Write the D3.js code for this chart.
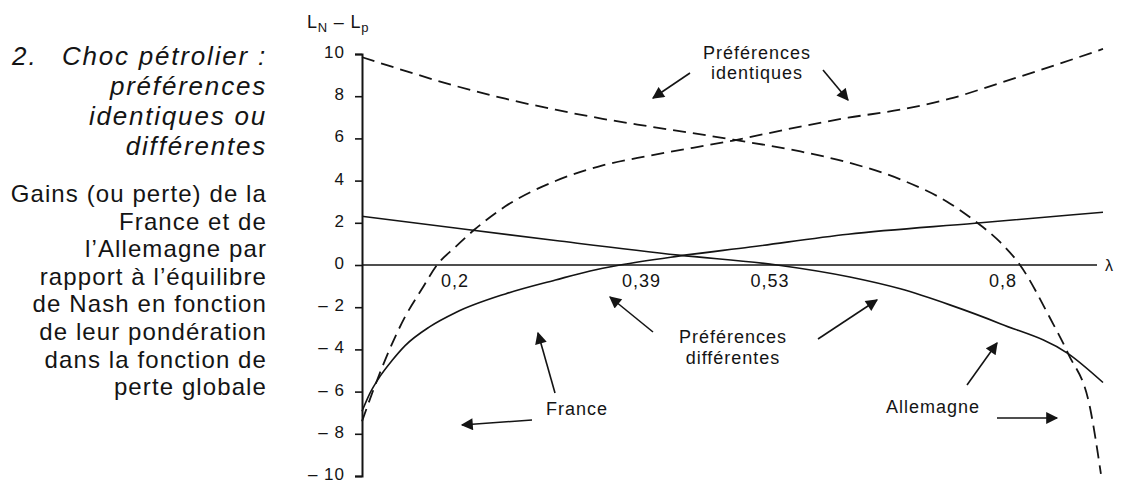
<!DOCTYPE html>
<html>
<head>
<meta charset="utf-8">
<script src="https://cdn.jsdelivr.net/npm/d3@7"></script>
<style>
  html, body { margin: 0; padding: 0; background: #fff; }
  svg { display: block; font-family: "Liberation Sans", Arial, Helvetica, sans-serif; }
</style>
</head>
<body>
<script>
// ---------------- DATA ----------------
// λ knots used by the (schematic) horizontal axis and the labelled λ values
const lambdaKnots = [0, 0.2, 0.39, 0.53, 0.8, 1];
const xTickValues = [0.2, 0.39, 0.53, 0.8];
const xTickLabels = ["0,2", "0,39", "0,53", "0,8"];
const yTickValues = [-10, -8, -6, -4, -2, 0, 2, 4, 6, 8, 10];

// Préférences identiques (dashed)
const identiquesFrance = [
  [0, -7.41], [0.027, -6.08], [0.061, -4.53], [0.115, -2.45], [0.16, -1.13],
  [0.2, 0], [0.219, 0.85], [0.239, 1.68], [0.271, 2.78], [0.323, 3.98],
  [0.372, 4.72], [0.417, 5.19], [0.491, 5.9], [0.556, 6.56], [0.609, 6.98],
  [0.667, 7.36], [0.722, 7.88], [0.778, 8.63], [0.872, 9.39], [1.0, 10.24]
];
const identiquesAllemagne = [
  [0, 9.85], [0.115, 9.2], [0.219, 8.49], [0.271, 7.88], [0.323, 7.36],
  [0.372, 6.93], [0.417, 6.56], [0.491, 5.94], [0.556, 5.38], [0.609, 4.86],
  [0.667, 4.06], [0.722, 2.92], [0.75, 2.08], [0.778, 1.08], [0.8, 0],
  [0.872, -2.5], [0.916, -4.2], [0.969, -6.79], [0.995, -9.9]
];
// Préférences différentes (solid)
const differentesFrance = [
  [0, -6.93], [0.021, -6.08], [0.048, -5.28], [0.08, -4.53], [0.115, -3.82],
  [0.181, -2.92], [0.219, -2.26], [0.271, -1.37], [0.323, -0.71], [0.359, -0.28],
  [0.39, 0], [0.442, 0.42], [0.506, 0.85], [0.609, 1.46], [0.75, 1.98], [1.0, 2.5]
];
const differentesAllemagne = [
  [0, 2.31], [0.219, 1.75], [0.323, 1.16], [0.442, 0.47], [0.53, 0],
  [0.611, -0.57], [0.667, -1.13], [0.722, -1.89], [0.778, -2.78],
  [0.916, -4.2], [1.0, -5.57]
];

const titleLines = ["Choc pétrolier :", "préférences", "identiques ou", "différentes"];
const subtitleLines = ["Gains (ou perte) de la", "France et de", "l’Allemagne par",
  "rapport à l’équilibre", "de Nash en fonction", "de leur pondération",
  "dans la fonction de", "perte globale"];

// ---------------- CHART ----------------
const W = 1123, H = 484;
const ink = "#141414";
const svg = d3.select("body").append("svg").attr("width", W).attr("height", H);

const x = d3.scaleLinear().domain(lambdaKnots).range([362, 437, 620, 777, 1020, 1103]);
const y = d3.scaleLinear().domain([-10, 10]).range([476, 54]);

// Title block
const tg = svg.append("g").attr("fill", ink);
tg.append("text").attr("x", 12).attr("y", 65)
  .attr("font-size", 26).attr("font-style", "italic").attr("letter-spacing", 2)
  .text("2.");
titleLines.forEach((t, i) => {
  tg.append("text").attr("x", 267).attr("y", 65 + i * 30)
    .attr("text-anchor", "end").attr("font-size", 26).attr("font-style", "italic")
    .attr("letter-spacing", 1.8).text(t);
});
subtitleLines.forEach((t, i) => {
  tg.append("text").attr("x", 267).attr("y", 202 + i * 27.6)
    .attr("text-anchor", "end").attr("font-size", 24)
    .attr("letter-spacing", 1.1).text(t);
});

// Y axis
const yAxis = svg.append("g").attr("transform", `translate(${x(0)},0)`)
  .call(d3.axisLeft(y).tickValues(yTickValues).tickSize(7).tickSizeOuter(7).tickPadding(10)
    .tickFormat(d => d < 0 ? "\u2013 " + (-d) : String(d)));
yAxis.select(".domain").attr("stroke", ink).attr("stroke-width", 2);
yAxis.selectAll(".tick line").attr("stroke", ink).attr("stroke-width", 1.6);
yAxis.selectAll(".tick text").attr("fill", ink).attr("font-size", 17).attr("dy", "0.2em")
  .attr("letter-spacing", 1).attr("font-family", "Liberation Sans, Arial, sans-serif");

// Y axis label L_N − L_p
const yl = svg.append("text").attr("x", 307).attr("y", 28).attr("fill", ink)
  .attr("font-size", 18).attr("letter-spacing", 0.8);
yl.append("tspan").text("L");
yl.append("tspan").attr("font-size", 13).attr("dy", 4).text("N");
yl.append("tspan").attr("dy", -4).text(" \u2013 L");
yl.append("tspan").attr("font-size", 13).attr("dy", 4).text("p");

// X axis line
svg.append("line").attr("x1", x(0)).attr("x2", x(1) - 6)
  .attr("y1", y(0)).attr("y2", y(0)).attr("stroke", ink).attr("stroke-width", 1.5);
svg.append("text").attr("x", x(1) + 2).attr("y", y(0) + 6).attr("fill", ink)
  .attr("font-size", 16).text("λ");

// X tick labels
const anchors = ["start", "start", "middle", "end"];
const dxs = [4, 2, -7, -3];
xTickValues.forEach((v, i) => {
  svg.append("text").attr("x", x(v) + dxs[i]).attr("y", y(0) + 22)
    .attr("text-anchor", anchors[i]).attr("fill", ink).attr("font-size", 18)
    .attr("letter-spacing", 1).text(xTickLabels[i]);
});

// Curves
const line = d3.line().x(d => x(d[0])).y(d => y(d[1])).curve(d3.curveMonotoneX);
const series = [
  { data: identiquesFrance, dash: "13,7", w: 1.8 },
  { data: identiquesAllemagne, dash: "13,7", w: 1.8 },
  { data: differentesFrance, dash: null, w: 1.6 },
  { data: differentesAllemagne, dash: null, w: 1.6 }
];
svg.append("g").selectAll("path").data(series).join("path")
  .attr("d", d => line(d.data))
  .attr("fill", "none").attr("stroke", ink)
  .attr("stroke-width", d => d.w)
  .attr("stroke-dasharray", d => d.dash);

// Arrow marker
svg.append("defs").append("marker").attr("id", "ah")
  .attr("viewBox", "0 0 10 10").attr("refX", 9).attr("refY", 5)
  .attr("markerUnits", "userSpaceOnUse").attr("markerWidth", 14).attr("markerHeight", 12)
  .attr("orient", "auto")
  .append("path").attr("d", "M0,0 L10,5 L0,10 Z").attr("fill", ink);

// Annotations
const annoText = [
  { t: "Préférences", x: 757, y: 59 }, { t: "identiques", x: 757, y: 79 },
  { t: "Préférences", x: 733, y: 343 }, { t: "différentes", x: 733, y: 364 },
  { t: "France", x: 577, y: 415 }, { t: "Allemagne", x: 933, y: 413 }
];
svg.append("g").selectAll("text").data(annoText).join("text")
  .attr("x", d => d.x).attr("y", d => d.y).attr("text-anchor", "middle")
  .attr("fill", ink).attr("font-size", 18).attr("letter-spacing", 1).text(d => d.t);

const arrows = [
  [690, 73, 653, 98], [823, 70, 848, 100],
  [653, 332, 610, 297], [818, 339, 877, 300],
  [555, 393, 538, 333], [532, 420, 462, 425],
  [967, 385, 997, 343], [997, 418, 1057, 418]
];
svg.append("g").selectAll("line").data(arrows).join("line")
  .attr("x1", d => d[0]).attr("y1", d => d[1]).attr("x2", d => d[2]).attr("y2", d => d[3])
  .attr("stroke", ink).attr("stroke-width", 1.6).attr("marker-end", "url(#ah)");
</script>
</body>
</html>
